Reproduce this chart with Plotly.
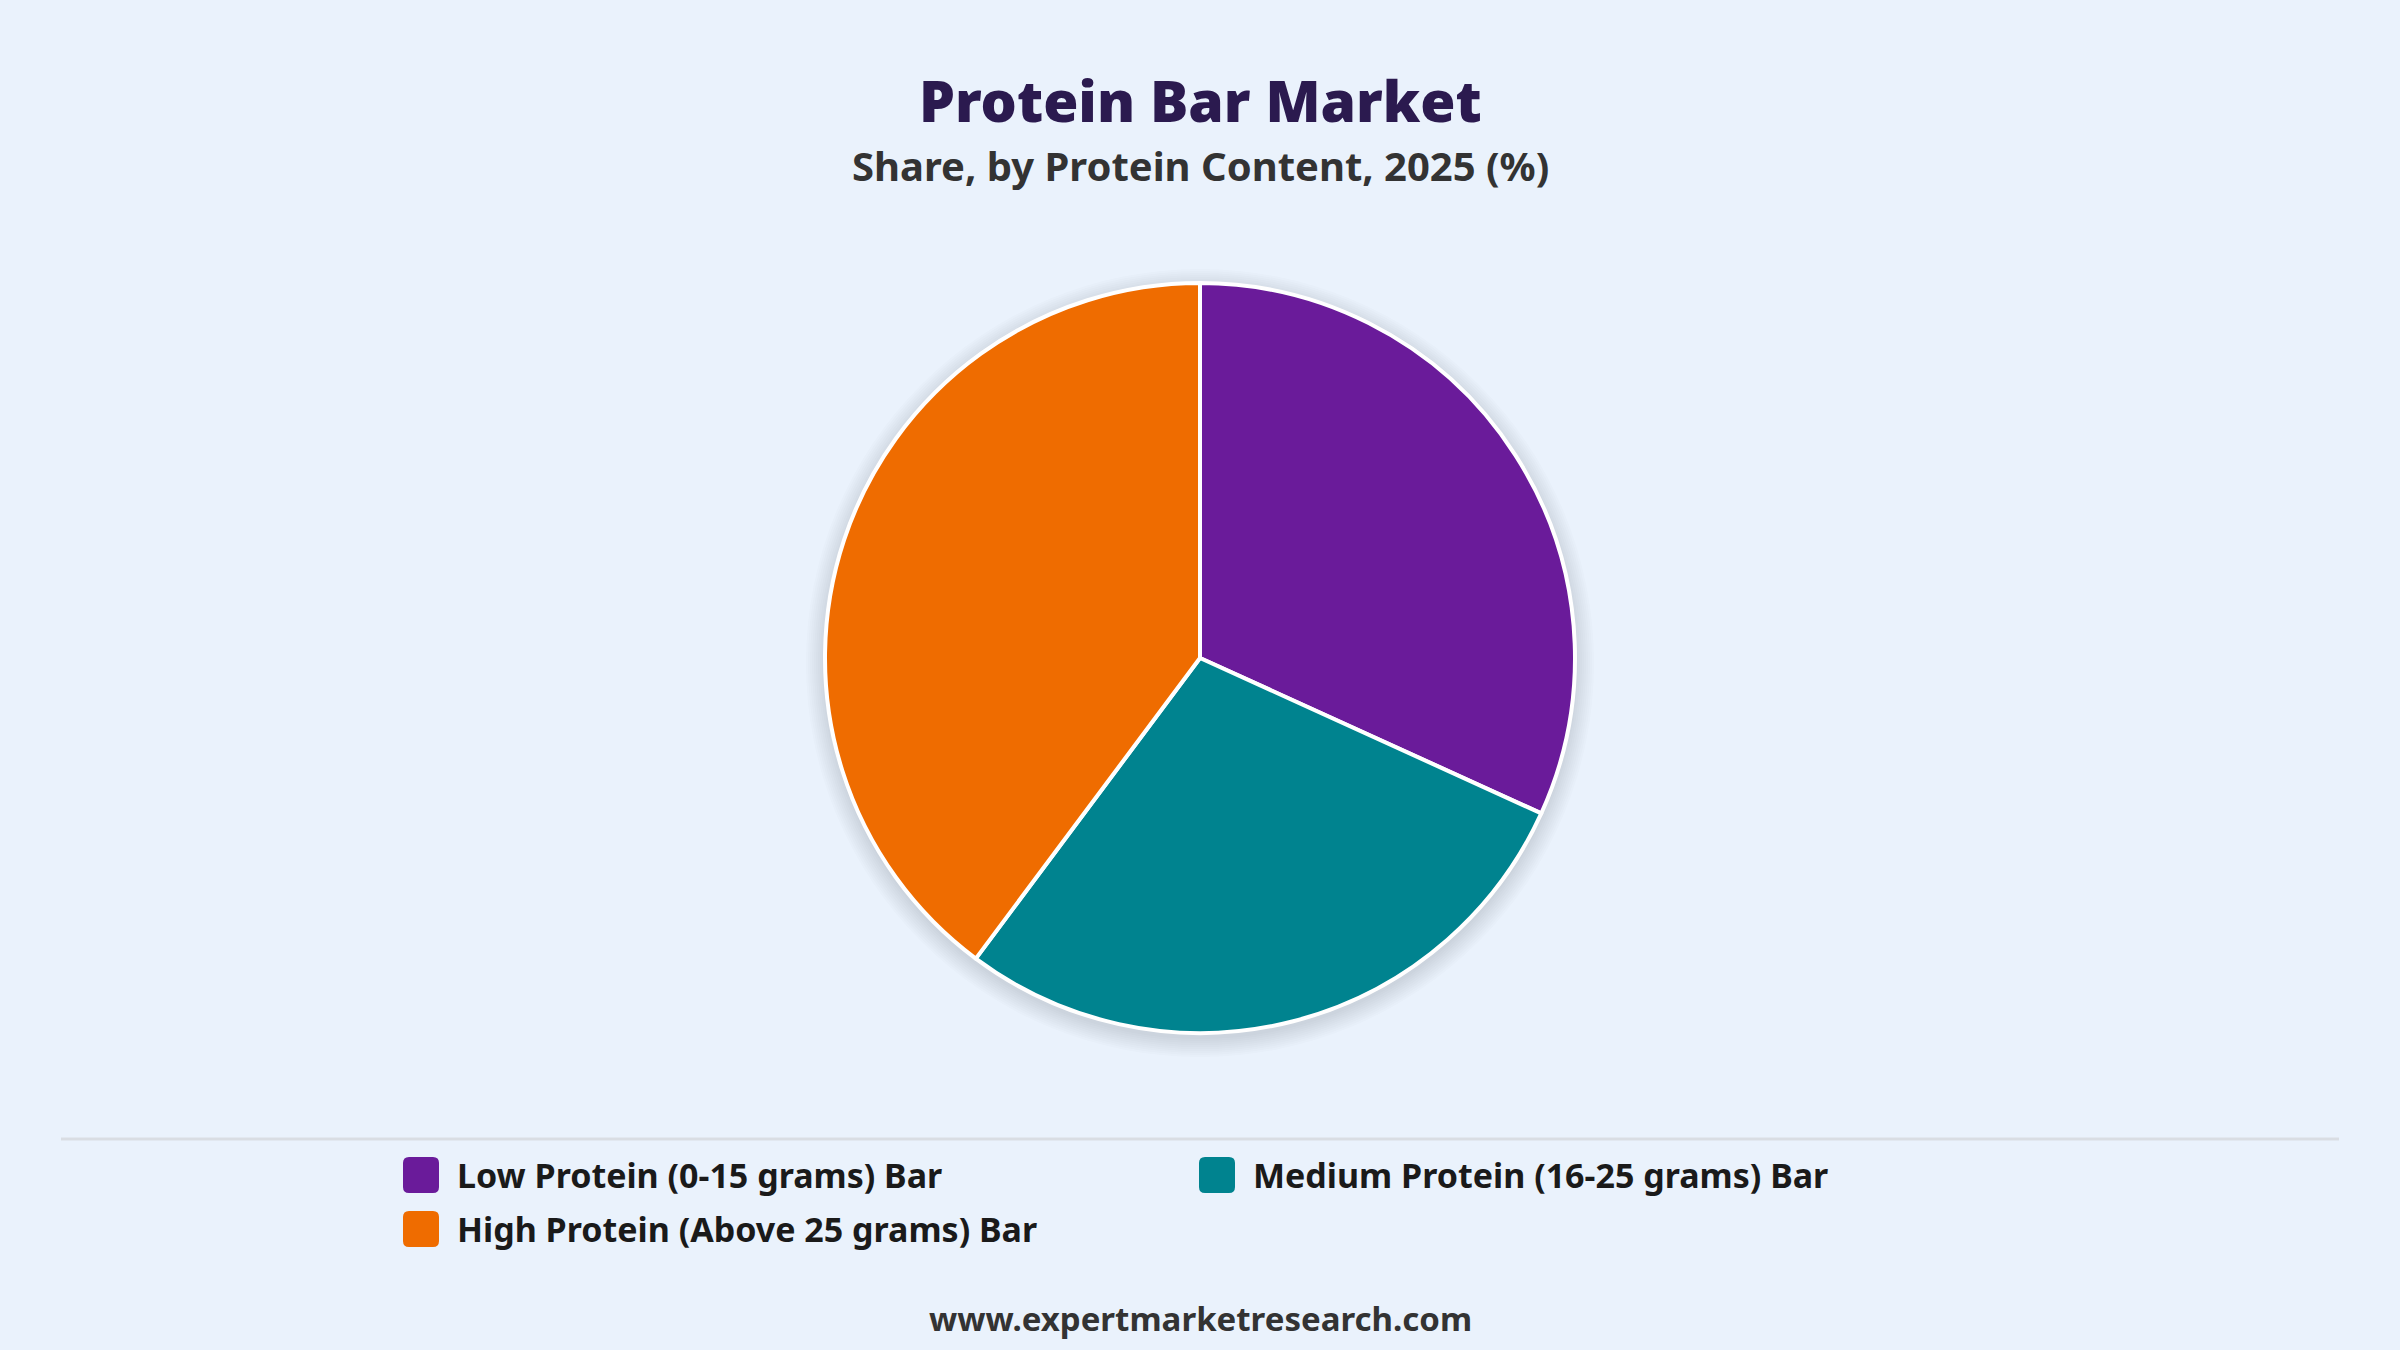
import plotly.graph_objects as go

# chart data
categories = [
    "Low Protein (0-15 grams) Bar",
    "Medium Protein (16-25 grams) Bar",
    "High Protein (Above 25 grams) Bar",
]
shares = [31.8, 28.4, 39.8]
colors = ["#6a1b9a", "#00838f", "#ef6c00"]

W, H = 2400, 1350
BG = "#eaf2fc"
FONT = "Noto Sans"

# pie placement (pixels)
cx, cy, r = 1200, 658, 375

fig = go.Figure()
fig.add_trace(go.Pie(
    labels=categories,
    values=shares,
    sort=False,
    direction="clockwise",
    rotation=0,
    textinfo="none",
    hoverinfo="label+percent",
    marker=dict(colors=colors, line=dict(color="white", width=4)),
    domain=dict(x=[(cx - r) / W, (cx + r) / W],
                y=[1 - (cy + r) / H, 1 - (cy - r) / H]),
    showlegend=False,
))

# soft shadow behind the pie
shapes = []
for i in range(10):
    rr = r + 1 + i * 2
    shapes.append(dict(
        type="circle", xref="paper", yref="paper", layer="below",
        x0=(cx - rr) / W, x1=(cx + rr) / W,
        y0=1 - (cy + 5 + rr) / H, y1=1 - (cy + 5 - rr) / H,
        fillcolor="rgba(60,60,70,0.016)", line=dict(width=0),
    ))

# separator line above the legend
shapes.append(dict(type="line", xref="paper", yref="paper",
                   x0=61 / W, x1=2339 / W, y0=1 - 1139 / H, y1=1 - 1139 / H,
                   line=dict(color="#d9dde3", width=3)))

annotations = [
    dict(text="Protein Bar Market", x=0.5, y=1 - 100 / H,
         font=dict(size=57, color="#2b1a4f", family=FONT, weight=900)),
    dict(text="<b>Share, by Protein Content, 2025 (%)</b>", x=0.5, y=1 - 165 / H,
         font=dict(size=40, color="#333333", family=FONT)),
    dict(text="<b>www.expertmarketresearch.com</b>", x=0.5, y=1 - 1318 / H,
         font=dict(size=33, color="#333333", family=FONT)),
]

# custom legend: two columns, rounded swatches
col_x = [403, 1199]
row_y = [1175, 1229]
sw = 36
for i, (name, col) in enumerate(zip(categories, colors)):
    lx = col_x[i % 2]
    ly = row_y[i // 2]
    shapes.append(dict(
        type="path", xref="paper", yref="paper", layer="above",
        path=(f"M {(lx + 6) / W},{1 - (ly - sw / 2) / H} "
              f"L {(lx + sw - 6) / W},{1 - (ly - sw / 2) / H} "
              f"Q {(lx + sw) / W},{1 - (ly - sw / 2) / H} {(lx + sw) / W},{1 - (ly - sw / 2 + 6) / H} "
              f"L {(lx + sw) / W},{1 - (ly + sw / 2 - 6) / H} "
              f"Q {(lx + sw) / W},{1 - (ly + sw / 2) / H} {(lx + sw - 6) / W},{1 - (ly + sw / 2) / H} "
              f"L {(lx + 6) / W},{1 - (ly + sw / 2) / H} "
              f"Q {lx / W},{1 - (ly + sw / 2) / H} {lx / W},{1 - (ly + sw / 2 - 6) / H} "
              f"L {lx / W},{1 - (ly - sw / 2 + 6) / H} "
              f"Q {lx / W},{1 - (ly - sw / 2) / H} {(lx + 6) / W},{1 - (ly - sw / 2) / H} Z"),
        fillcolor=col, line=dict(width=0),
    ))
    annotations.append(dict(
        text=f"<b>{name}</b>", x=(lx + 52) / W, y=1 - ly / H,
        xanchor="left", font=dict(size=34, color="#1a1a1a", family=FONT),
    ))

for a in annotations:
    a.setdefault("xref", "paper")
    a.setdefault("yref", "paper")
    a.setdefault("showarrow", False)
    a.setdefault("yanchor", "middle")
    a.setdefault("xanchor", "center")

fig.update_layout(
    width=W, height=H,
    paper_bgcolor=BG, plot_bgcolor=BG,
    margin=dict(l=0, r=0, t=0, b=0),
    shapes=shapes,
    annotations=annotations,
    font=dict(family=FONT),
)

# drop the browser's default body margin so the figure fills the window
fig.write_html("out.html",
               config={"displayModeBar": False},
               post_script="document.body.style.margin='0';document.body.style.background='" + BG + "';")
